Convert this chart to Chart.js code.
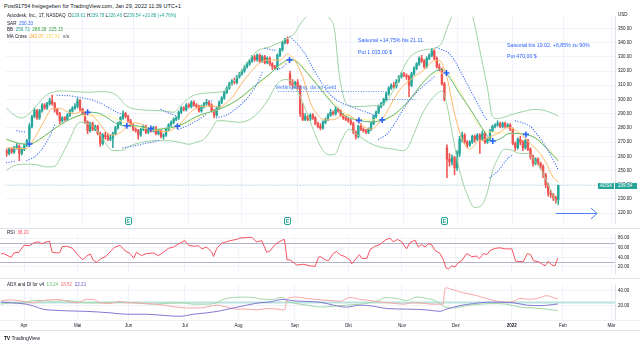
<!DOCTYPE html>
<html lang="de">
<head>
<meta charset="utf-8">
<title>Autodesk, Inc. – 1T – NASDAQ</title>
<script src="https://cdn.jsdelivr.net/npm/chart.js@4/dist/chart.umd.min.js"></script>
<style>
  html, body { margin: 0; padding: 0; background: #fff; }
  #stage { position: relative; width: 640px; height: 345px; overflow: hidden;
           font-family: "Liberation Sans", Arial, sans-serif; color: #131722; }
  canvas { position: absolute; left: 0; }
  .t { position: absolute; white-space: nowrap; line-height: 6px; font-size: 4.6px; }
  .sep { position: absolute; left: 0; width: 640px; height: 1px; background: #e0e3eb; }
  .e { position: absolute; top: 217px; width: 7px; height: 8px; box-sizing: border-box;
       border: 1px solid #26a69a; border-radius: 2px; background: #fff; color: #26a69a;
       font-size: 5px; line-height: 6px; text-align: center; font-weight: bold; }
  .box { position: absolute; height: 6px; line-height: 6px; font-size: 4.6px; color: #fff;
         background: #26a69a; white-space: nowrap; }
  .note { position: absolute; white-space: nowrap; font-size: 5.25px; line-height: 6px; color: #2962ff; }
</style>
</head>
<body>
<div id="stage">
  <div class="t" style="left:4px;top:3px;font-size:5.5px;">Post91754 freigegeben für TradingView.com, Jan 29, 2022 11:39 UTC+1</div>

  <canvas id="cPrice" width="640" height="218" style="top:11px"></canvas>
  <canvas id="cRsi" width="640" height="50" style="top:229px"></canvas>
  <canvas id="cAdx" width="640" height="52" style="top:279px"></canvas>

  <div class="sep" style="top:228px"></div>
  <div class="sep" style="top:278px"></div>
  <div class="sep" style="top:320px;background:#eef0f4"></div>
  <div class="sep" style="top:330px"></div>

  <div class="t" id="legMain" style="left:7px;top:13px"></div>
  <div class="t" id="legSar" style="left:7px;top:20.5px"></div>
  <div class="t" id="legBb" style="left:7px;top:27px"></div>
  <div class="t" id="legMa" style="left:7px;top:33.5px"></div>
  <div class="t" id="legRsi" style="left:7px;top:229.5px"></div>
  <div class="t" id="legAdx" style="left:7px;top:282px"></div>
  <div class="t" style="left:618px;top:12px;font-size:4.5px">USD</div>

  <div class="note" style="left:358px;top:37px">Saisonal +14,75% bis 21.11.</div>
  <div class="note" style="left:358px;top:49px">Put 1.033,00 $</div>
  <div class="note" style="left:507px;top:42px">Saisonal bis 19.02. +6,85% zu 90%</div>
  <div class="note" style="left:507px;top:53px">Put 470,00 $</div>
  <div class="note" style="left:275px;top:84px;color:#4a86f0;font-size:5.4px">Verlängerung, da im Geld</div>

  <div class="t" style="left:4px;top:335px;font-size:5.2px;"><b style="letter-spacing:-0.3px">TV</b> TradingView</div>
</div>

<script>
// ---------------------------------------------------------------
// Autodesk (ADSK) daily candles, bar index 0 = 1 Apr 2021
// ---------------------------------------------------------------
const FIRST_BAR = -9;

const openP = [
  264,262,265,263,266,267,262,265,268,272,
  281,288,292,287,292,296,294,297,299,297,
  293,290,285,287,286,289,292,294,295,299,
  293,290,284,278,283,279,281,276,269,275,
  274,272,273,276,280,283,287,290,288,285,
  282,279,278,275,279,281,277,279,278,280,
  276,278,274,275,279,282,284,286,287,291,
  294,293,296,295,298,296,295,292,295,297,
  298,296,292,289,294,298,301,305,308,311,
  313,312,316,318,320,323,325,327,330,328,
  331,327,330,326,329,325,323,322,331,335,
  340,342,318,312,310,312,309,290,286,288,
  286,289,287,283,281,280,284,286,289,291,
  290,293,292,289,287,286,285,283,277,274,
  281,279,278,277,279,283,288,291,295,297,
  300,304,308,310,309,313,316,318,317,316,
  310,318,322,325,329,327,323,329,331,334,
  329,323,321,311,266,258,256,259,252,262,
  272,275,270,268,270,274,272,275,272,276,
  270,272,278,281,282,283,281,283,281,282,
  279,269,266,272,270,266,271,265,260,255,
  258,255,253,247,240,234,233,231,229.61
];
const highP = [
  265,266,266,267,269,268,266,269,272,283,
  289,294,293,293,297,297,298,301,303,298,
  294,291,288,288,290,293,295,297,301,300,
  294,291,285,284,284,282,282,277,276,277,
  276,275,277,281,284,288,292,291,289,286,
  283,280,279,280,282,282,280,280,281,281,
  279,279,276,280,283,285,287,288,292,295,
  295,297,297,299,299,297,296,296,298,300,
  299,297,293,295,299,302,306,309,312,314,
  315,317,319,321,324,326,328,331,331,332,
  332,331,331,330,330,326,324,332,336,341,
  343,344,320,314,313,314,310,297,290,289,
  290,290,288,284,283,285,287,290,293,292,
  295,294,293,290,288,287,286,284,278,282,
  283,280,279,280,284,289,292,296,298,301,
  305,309,311,312,314,317,319,319,318,317,
  319,323,326,330,331,328,330,332,336,335,
  330,325,322,312,268,262,261,260,264,274,
  277,276,271,271,275,275,276,276,278,277,
  273,279,282,283,285,284,284,284,283,283,
  280,270,273,274,271,272,272,266,261,259,
  259,256,254,248,241,236,234,232,239.78
];
const lowP = [
  260,261,262,262,265,257,261,264,267,271,
  280,287,286,286,291,293,293,296,296,291,
  289,283,284,285,285,288,291,293,294,292,
  289,283,276,277,278,278,275,267,268,272,
  271,271,266,275,279,282,286,287,284,281,
  278,277,272,274,278,276,276,277,277,275,
  275,273,272,274,278,281,283,285,286,290,
  292,292,294,294,295,294,291,291,294,296,
  295,291,287,288,293,297,300,304,307,310,
  311,311,315,317,319,322,324,326,327,327,
  326,326,325,325,324,321,321,321,330,334,
  339,339,310,308,308,307,288,285,285,285,
  285,286,282,280,278.6,279,283,285,288,289,
  289,291,288,286,285,284,282,276,272,273,
  278,277,276,276,278,282,287,290,294,296,
  299,303,307,308,308,312,315,316,314,302,
  309,317,321,324,326,322,322,328,330,328,
  322,320,310,299,245,253,254,247,250,260,
  270,269,266,267,269,270,271,262,271,269,
  269,271,277,280,281,280,280,280,280,278,
  268,264,265,268,264,265,264,258,253,254,
  254,251,245,238,232,231,229,227,226.40
];
const closeP = [
  262,265,263,266,267,262,265,268,271,281,
  288,292,287,292,296,294,297,299,297,293,
  290,285,287,286,289,292,294,295,299,293,
  290,284,278,283,279,281,276,269,275,274,
  272,273,276,280,283,287,290,288,285,282,
  279,278,275,279,281,277,279,278,280,276,
  278,274,275,279,282,284,286,287,291,294,
  293,296,295,298,296,295,292,295,297,298,
  296,292,289,294,298,301,305,308,311,313,
  312,316,318,320,323,325,327,330,328,331,
  327,330,326,329,325,323,322,331,335,340,
  342,340,312,310,312,309,290,286,288,286,
  289,287,283,281,280,284,286,289,291,290,
  293,292,289,287,286,285,283,277,274,281,
  279,278,277,279,283,288,291,295,297,300,
  304,308,310,309,313,316,318,317,316,310,
  318,322,325,329,327,323,329,331,334,329,
  323,322,311,300,258,256,259,252,263,272,
  275,270,268,270,274,272,275,272,276,270,
  272,278,281,282,283,281,283,281,282,279,
  269,266,272,270,266,271,265,260,255,258,
  255,253,247,240,234,233,231,228.66,239.54
];

// Bollinger Bands (20, 2) as [bar, value]
const bbBasis = [[-9,272],[-4,269],[0,268.5],[4,272],[8,277],[12,282],[16,286],[20,289],[23,291],[27,290.5],[30,288],[34,283.5],[38,281.5],[42,281.5],[46,280],[50,279],[54,279.5],[58,281],[62,284],[66,288],[70,290.5],[74,292.5],[78,295.5],[82,299.5],[86,305],[90,311],[95,318],[100,325.9],[103,328],[105,327.3],[110,318.2],[115,307.3],[120,296.8],[125,288.3],[130,285.4],[135,284.2],[140,285.7],[145,290.6],[150,299.4],[155,310.7],[160,319.4],[163,321],[165,318],[170,304.2],[175,291],[180,276.9],[183,270.7],[186,272.3],[190,276.2],[196,275.5],[200,272.7],[205,264.4],[209,256.72]];
const bbUpper = [[-9,294],[-6,289],[-3,287],[0,290],[3,296],[6,302],[9,305],[13,306],[18,305.5],[23,305],[28,305.5],[32,305],[35,302],[38,296],[41,293.5],[46,292.5],[52,292],[57,291],[60,296],[63,301],[66,303.5],[70,304.5],[74,305],[77,306],[80,311],[83,318],[86,326],[90,334],[95,337],[100,341],[103,344],[105,347],[107,353],[110,359],[113,362],[116,361],[119,356],[120.5,350],[122.4,318],[124.3,301],[126.3,295.5],[130,295],[135,295.5],[140,297],[144,307],[147,319],[150,329],[155,334.5],[160,336],[163,340],[165,350],[168,362],[171,368],[174,365],[176,352],[178.5,330],[181,308],[183,288],[185,286.5],[190,289],[195,291.5],[200,293],[204,292],[207,290],[209,288.28]];
const bbLower = [[-9,250.5],[-5,254],[-1,254.5],[3,254],[7,252.5],[10,253],[12,258],[14,265],[16,272],[18,280],[20,284],[23,283],[26,280],[29,272],[33,264],[36,264],[40,267.5],[45,270],[50,271],[55,271],[59,270],[63,268.5],[66,270],[69,272],[72,279],[74.2,285],[77,285],[82,284],[86,285],[90,290],[94,299],[98,311],[101,314],[104,312],[107,302],[110,289],[113,275],[116,264],[118.5,261],[121,262],[123,270],[126.3,279],[129,276],[132,272],[136,268],[140,266],[144,265],[147,264],[149,265],[152,276],[155,289],[158,298],[161,304],[163,306],[165,296],[167,277],[170,250],[173,233],[176,224],[179,226],[181,235],[183,249.6],[185,258],[187.7,265],[190,264.5],[194,262],[197,262],[200,256],[203,248],[206,236],[209,225.15]];

// MA Cross (9 / 21)
const ma9 = [[-9,266],[-1,265.4],[0,267.4],[3,275.7],[6,285.4],[9,293.6],[12,293.7],[15,291.4],[18,290.1],[21,291.7],[24,289.8],[27,284.8],[30,277.7],[33,275],[36,276.6],[39,281.6],[42,283.6],[45,281.9],[48,278.7],[51,278.1],[54,277.3],[57,279.3],[60,283.6],[63,289.8],[66,293.9],[69,295.2],[72,295.4],[75,294.6],[78,297.9],[81,303.4],[84,311.6],[87,318.3],[90,324.2],[93,327.4],[96,327.7],[99,327.6],[102,331.9],[105,327],[108,315.7],[111,298],[114,288.8],[117,285.6],[120,285.7],[123,288.2],[126,289.1],[129,285.1],[132,281.1],[135,279],[138,283.4],[141,290.4],[144,300.2],[147,308.3],[150,313],[153,317.2],[156,320.8],[159,326.4],[162,327.4],[165,315.4],[168,290],[171,272],[174,265],[177,269.9],[180,271.9],[183,274.4],[186,277.2],[189,280.3],[192,278.4],[195,274.2],[198,268.7],[201,263.6],[204,256],[207,245.1],[209,242.07]];
const ma21 = [[-9,271],[0,268.5],[10,279],[20,288.5],[30,288.5],[40,282],[50,279],[60,282],[70,290],[80,297],[90,310],[100,325],[105,327.5],[110,319],[120,298],[130,286],[140,285.5],[150,298.5],[160,318.5],[165,318.5],[170,306],[180,278],[190,276],[200,273],[209,257.91]];
const maCrosses = [[0,268.7],[23,291],[38.5,281.5],[48,279.5],[58.5,281.2],[102.8,327.8],[130.2,285.3],[139.4,285.6],[164.8,318.6],[183.1,270.8],[196.2,275.4]];

// Parabolic SAR, one list per trend leg
const sarLegs = [
  [[-9,255.5],[-6,256.5]],
  [[-5,278],[-1.5,277]],
  [[-1,257],[2,259.5],[5,265],[8,274],[10,282]],
  [[11,303],[16,302.5],[20,301.5],[24,300],[28,297.5],[31,294.5],[34,291.5],[36,290]],
  [[37,266],[42,267.5],[47,269.5],[51,271]],
  [[52,293],[55,290.5],[58,288.5]],
  [[59,279],[63,282],[67,286],[70,289.5]],
  [[71,299],[73,298.5]],
  [[74,287],[78,289],[82,294],[85.7,300],[89.7,310],[92,319]],
  [[93,336],[97,334.5]],
  [[98,321],[100,322.5],[102,326]],
  [[103,344],[106,339],[109,332],[112,322],[115,313],[118,305],[121,300],[124,297],[127,295],[130,293],[134,290.5],[137,288]],
  [[138,272],[141,275],[144,282],[147,291],[150,299],[153,305],[156,310],[159,314.5],[160,316]],
  [[161,336.4],[163,335],[165.5,333],[168,327.5],[170.7,318.6],[173.3,309.7],[176,300.8],[178.6,292],[180,287.5],[181,285]],
  [[182,245],[185,249.5],[189,258.5],[191,261]],
  [[192,285],[195,283.5],[198,281],[200.7,275.2],[203.4,268.5],[205.3,263],[207.3,256.3],[209,250.33]]
];

// RSI (14)
const rsi = [[-9,47],[-8,47.8],[-6,42.5],[-5,39.8],[-4,48.9],[-2,50.5],[0,65],[2,64],[4,70.3],[5.6,71.9],[7,68],[8,70.8],[10,73.5],[11,50.5],[13,48.9],[14,50],[15,62.3],[17,62.8],[19,58.5],[21,45.2],[23,34.5],[24.5,42.5],[26,46.8],[27,34.5],[28.5,29.1],[30,37.1],[32,41.4],[34,53.2],[35.6,61.2],[37.6,65],[39.6,53.2],[41.5,47.8],[43,38.2],[44,50.5],[46,43.5],[48,47.8],[50.7,48.9],[52.6,43.5],[54.6,50.5],[56.5,58.5],[58.5,61.2],[61,69.2],[63,74.6],[64.4,65],[66.3,62.8],[68.3,64],[69.6,57.5],[71.5,61.2],[73.5,50.5],[74.2,41.4],[75.5,58.5],[77.4,69.2],[80.7,74.6],[83.3,77.2],[84.6,79.9],[87.2,81],[89.2,81.5],[91.1,71.9],[93.1,74.6],[95,50.5],[96.3,53.2],[98.3,66.5],[101,75.6],[102,77],[103,34.5],[104.2,34.5],[106.8,23.8],[109.4,25.4],[112,22.2],[114,21.1],[115.3,39.8],[116,41.4],[118,34.5],[119.2,32.8],[121.1,47.8],[122.4,52.1],[123.7,45.2],[125.7,41.4],[127.6,34.5],[128.3,26.4],[129.6,34.5],[131.3,45.2],[132.2,38.2],[134.2,37.1],[135.5,55.8],[137.4,62.8],[139.4,66.5],[141.4,75.6],[143.3,79.9],[144.6,71.9],[146.2,77.2],[147.9,71.9],[149.8,57.5],[151.1,70.3],[153.1,75.6],[154.4,61.2],[155.7,66.5],[157,61.2],[158.3,68.1],[159.6,66.5],[160.9,54.2],[162.9,47.8],[164.2,34.5],[165.2,18.4],[166.2,15.7],[167.5,22.2],[168.8,20],[170.1,29.1],[171.4,32.8],[173.3,47.8],[175.3,41.4],[177.3,42.5],[178.3,37.1],[179.9,47.8],[181.2,45.2],[182.5,54.2],[184.4,58.5],[186.4,59.6],[188.4,57.5],[191,57.5],[192.5,31.8],[195.5,30.7],[197.1,47.8],[198.4,45.2],[199.5,32.8],[201.4,30.7],[202.7,26.4],[204,22.2],[205.3,31.8],[206.6,23.8],[207.9,22.2],[209,38.2]];
const rsiBands = [70, 30];

// ADX and DI
const diPlus = [[-9,21.9],[-5,23.8],[-0.3,23.8],[3.7,26.9],[7.6,26.9],[11.5,25.7],[16.7,26.9],[20.6,25.4],[24.5,23.8],[29.8,23.8],[35,24.6],[40.2,24.6],[45.4,23],[50.7,21.9],[55.9,23],[61.1,23.8],[66.3,21.9],[71.5,21.9],[75.5,23.8],[78,28.4],[82,30.8],[86,31.5],[89.8,30.8],[93.7,28.4],[97.7,28.4],[100.3,30.8],[102,30],[103,26],[104.2,24.6],[108.1,21.9],[112,20],[116,18],[121.1,19.2],[126.3,20.7],[131.6,21.9],[135.5,23.8],[139.4,27.7],[141.4,30.8],[145.9,29.6],[149.8,26.9],[153.8,31.5],[157.7,29.6],[161.6,25.7],[164.9,18],[168.1,16.9],[173.3,20],[178.6,21.9],[183.8,22.7],[189,21.9],[194.2,18],[199.5,16.9],[204.7,15.3],[209,13.24]];
const diMinus = [[-9,26.5],[-5,27.7],[1,25],[3.7,23.8],[7.6,26.9],[10.2,27.7],[13.4,28.4],[16.7,25.7],[20.6,23.8],[24.5,28.4],[27.2,28.4],[29.8,23.8],[33.7,23],[37.6,25.7],[40.2,23.8],[44.1,23.8],[48,22.7],[52,21.9],[55.9,20],[59.8,18],[63.7,16.9],[69,16.9],[72.8,19.2],[75.5,20.7],[79.4,18],[83.3,15.3],[87.2,15.3],[91.1,14.2],[95,16.1],[99,15.3],[102,14.2],[103,28.4],[104.2,30.8],[106.8,31.5],[110.7,29.6],[116,27.7],[119.8,26.9],[123.7,25.7],[127.6,30.8],[131.6,28.4],[135.5,26.9],[139.4,24.6],[143.3,23.8],[148.5,21.9],[152.5,23.8],[156.4,23],[160.3,21.9],[164,22],[165,43.9],[168.1,41.2],[172,37.3],[177.3,33.4],[183.8,26.9],[189,24.6],[191.6,25.7],[194.2,29.6],[198.1,28.4],[202.1,30.8],[204.7,33.4],[207.3,30.8],[209,28.82]];
const adx = [[-9,24.6],[-5,23.8],[1,21.9],[3.7,19.5],[7.6,15],[12,13.8],[16.7,13],[24.5,12.3],[33.7,10.3],[40.2,8.4],[48,8.4],[55.9,6.5],[61.1,5.7],[66.3,8.4],[71.5,10.3],[76.8,13],[82,16.9],[87.2,20.7],[92.4,23.8],[96.3,25],[101.6,28.4],[105.5,26.5],[110.7,25.7],[116,24.6],[121.1,20.7],[126.3,18],[131.6,20.7],[136.8,19.2],[142,16.1],[149.8,15.3],[157.7,14.2],[162.9,12.3],[165.5,15.3],[170.7,20],[176,22.7],[181.2,24.6],[186.4,24.6],[191.6,23.8],[196.8,20.7],[202.1,20],[209,22.21]];
const adxThreshold = [25];

// Axis ticks
const monthTicks  = [0, 21, 41, 63, 84, 106, 127, 148, 169, 191, 211, 230];
const monthLabels = ['Apr','Mai','Jun','Jul','Aug','Sep','Okt','Nov','Dez','2022','Feb','Mär'];
const priceTicks  = [220,230,240,250,260,270,280,290,300,310,320,330,340,350];
const rsiTicks    = [20,40,60,80];
const adxTicks    = [20,40];

// Drawings on the price pane
const earningsBars = [39, 102, 164];
const noteLines = [[98.3, 141.3, 305.7], [141.3, 152.3, 300.0]];   // [from bar, to bar, price]
const forecastArrow = [208, 224.3, 219.8];                        // [from bar, to bar, price]

// ---------------------------------------------------------------
const FONT = '"Liberation Sans", Arial, sans-serif';
const GRID = '#f0f3fa';
const UP = '#26a69a', DOWN = '#ef5350';
const AXIS_W = 25;
const X_MIN = -9.4, X_MAX = 231.4;
const PRICE_MIN = 212.87, PRICE_MAX = 358.2;

const barX = k => k + FIRST_BAR;
const toPts = arr => arr.map(p => ({x: p[0], y: p[1]}));
const last = closeP.length - 1;
const candleColor = closeP.map((c, k) => c >= openP[k] ? UP : DOWN);

function lineDs(arr, color, width, extra) {
  return Object.assign({
    type: 'line', data: toPts(arr), borderColor: color, borderWidth: width,
    pointRadius: 0, fill: false, cubicInterpolationMode: 'monotone', spanGaps: false
  }, extra || {});
}

function xAxis(withLabels) {
  return {
    type: 'linear', min: X_MIN, max: X_MAX, offset: false,
    afterBuildTicks: s => { s.ticks = monthTicks.map(v => ({value: v})); },
    afterFit: s => { s.height = withLabels ? 11 : 0; },
    grid: {color: GRID, drawTicks: false, offset: false},
    border: {display: false},
    ticks: {
      display: withLabels, autoSkip: false, maxRotation: 0, padding: 3, color: '#131722',
      font: c => ({family: FONT, size: 4.5, weight: monthLabels[c.index] === '2022' ? 'bold' : 'normal'}),
      callback: (v, i) => monthLabels[i]
    }
  };
}

function yAxis(min, max, ticks) {
  return {
    position: 'right', min, max,
    afterBuildTicks: s => { s.ticks = ticks.map(v => ({value: v})); },
    afterFit: s => { s.width = AXIS_W; },
    grid: {color: GRID, drawTicks: false},
    border: {display: true, color: '#e0e3eb'},
    ticks: {autoSkip: false, padding: 3, color: '#131722', font: {family: FONT, size: 4.5},
            callback: v => Number(v).toFixed(2)}
  };
}

// horizontal levels, drawing lines and the arrow
const paneDecor = {
  id: 'paneDecor',
  beforeDatasetsDraw(chart, args, o) {
    const {ctx, chartArea: a, scales: {y}} = chart;
    ctx.save();
    (o.levels || []).forEach(l => {
      const py = Math.round(y.getPixelForValue(l.value)) + 0.5;
      ctx.strokeStyle = l.color; ctx.lineWidth = l.width; ctx.setLineDash(l.dash || []);
      ctx.beginPath(); ctx.moveTo(a.left, py); ctx.lineTo(a.right, py); ctx.stroke();
    });
    ctx.restore();
  },
  afterDatasetsDraw(chart, args, o) {
    const {ctx, scales: {x, y}} = chart;
    ctx.save();
    (o.notes || []).forEach(n => {
      const py = Math.round(y.getPixelForValue(n[2])) + 0.5;
      ctx.strokeStyle = '#5b8def'; ctx.lineWidth = 1; ctx.setLineDash([1, 1.5]);
      ctx.beginPath(); ctx.moveTo(x.getPixelForValue(n[0]), py); ctx.lineTo(x.getPixelForValue(n[1]), py); ctx.stroke();
    });
    if (o.arrow) {
      const [a0, a1, lv] = o.arrow;
      const x0 = x.getPixelForValue(a0), x1 = x.getPixelForValue(a1), py = Math.round(y.getPixelForValue(lv)) + 0.5;
      ctx.setLineDash([]); ctx.strokeStyle = '#4d7ef7'; ctx.lineWidth = 1;
      ctx.beginPath(); ctx.moveTo(x0, py); ctx.lineTo(x1, py);
      ctx.moveTo(x1 - 6, py - 5.5); ctx.lineTo(x1, py); ctx.lineTo(x1 - 6, py + 5.5); ctx.stroke();
    }
    ctx.restore();
  }
};

const baseOptions = {
  responsive: false, animation: false, events: [],
  layout: {padding: 0},
  plugins: {legend: {display: false}, tooltip: {enabled: false}}
};

// ---------------- price pane ----------------
const bodies = openP.map((o, k) => ({x: barX(k), y: [o, closeP[k]]}));
const wicks  = lowP.map((l, k) => ({x: barX(k), y: [l, highP[k]]}));

const priceDatasets = [
  {type: 'line', data: toPts(maCrosses), showLine: false, pointStyle: 'cross', pointRadius: 3,
   pointBorderWidth: 1.6, pointBorderColor: '#2962ff', borderColor: '#2962ff', order: 0},
  ...sarLegs.map(leg => lineDs(leg, '#3d6ff5', 1.25,
    {borderDash: [0.01, 2.55], borderCapStyle: 'round', cubicInterpolationMode: 'default', tension: 0.2, order: 1})),
  lineDs(ma9, '#ffb866', 1, {order: 2}),
  lineDs(bbBasis, '#5cb878', 1, {order: 3}),
  lineDs(ma21, '#fff3a0', 1, {order: 4}),
  lineDs(bbUpper, '#9fd3a2', 1, {order: 3}),
  lineDs(bbLower, '#9fd3a2', 1, {order: 3}),
  {type: 'bar', data: bodies, backgroundColor: candleColor, borderWidth: 0, barThickness: 1.7,
   grouped: false, minBarLength: 0.8, order: 5},
  {type: 'bar', data: wicks, backgroundColor: candleColor, borderWidth: 0, barThickness: 0.9,
   grouped: false, order: 6}
];

const priceChart = new Chart(document.getElementById('cPrice'), {
  type: 'bar',
  data: {datasets: priceDatasets},
  options: Object.assign({}, baseOptions, {
    scales: {x: xAxis(false), y: yAxis(PRICE_MIN, PRICE_MAX, priceTicks)},
    plugins: Object.assign({}, baseOptions.plugins, {
      paneDecor: {
        levels: [{value: closeP[last], color: 'rgba(38,166,154,0.45)', width: 1, dash: [1, 2]}],
        notes: noteLines, arrow: forecastArrow
      }
    })
  }),
  plugins: [paneDecor]
});

// ---------------- RSI pane ----------------
new Chart(document.getElementById('cRsi'), {
  type: 'line',
  data: {datasets: [lineDs(rsi, '#f7525f', 1, {cubicInterpolationMode: 'default', tension: 0})]},
  options: Object.assign({}, baseOptions, {
    scales: {x: xAxis(false), y: yAxis(6.68, 86.9, rsiTicks)},
    plugins: Object.assign({}, baseOptions.plugins, {
      paneDecor: {levels: rsiBands.map(v => ({value: v, color: '#b4b2c8', width: 1}))}
    })
  }),
  plugins: [paneDecor]
});

// ---------------- ADX / DI pane ----------------
new Chart(document.getElementById('cAdx'), {
  type: 'line',
  data: {datasets: [
    lineDs(adx, '#8378d4', 1, {order: 0}),
    lineDs(diMinus, '#f6a6a6', 1, {order: 1}),
    lineDs(diPlus, '#a3d6a6', 1, {order: 2})
  ]},
  options: Object.assign({}, baseOptions, {
    scales: {x: xAxis(true), y: yAxis(0.69, 48.09, adxTicks)},
    plugins: Object.assign({}, baseOptions.plugins, {
      paneDecor: {levels: adxThreshold.map(v => ({value: v, color: '#b9e3de', width: 2}))}
    })
  }),
  plugins: [paneDecor]
});

// ---------------- legends & overlays ----------------
const f2 = v => Number(v).toFixed(2);
const col = (txt, c) => `<span style="color:${c}">${txt}</span>`;
const chg = closeP[last] - closeP[last - 1];
const sign = chg >= 0 ? '+' : '−';
const chgColor = chg >= 0 ? UP : DOWN;

document.getElementById('legMain').innerHTML =
  'Autodesk, Inc., 1T, NASDAQ&nbsp;&nbsp;' +
  'O' + col(f2(openP[last]), chgColor) + ' H' + col(f2(highP[last]), chgColor) +
  ' L' + col(f2(lowP[last]), chgColor) + ' C' + col(f2(closeP[last]), chgColor) + ' ' +
  col(`${sign}${f2(Math.abs(chg))} (${sign}${f2(Math.abs(chg) / closeP[last - 1] * 100)}%)`, chgColor);
const sarLast = sarLegs[sarLegs.length - 1];
document.getElementById('legSar').innerHTML = 'SAR&nbsp;&nbsp;' + col(f2(sarLast[sarLast.length - 1][1]), '#2962ff');
document.getElementById('legBb').innerHTML = 'BB&nbsp;&nbsp;' +
  col(f2(bbBasis[bbBasis.length - 1][1]), '#2a9d8f') + '&nbsp;&nbsp;' +
  col(f2(bbUpper[bbUpper.length - 1][1]), '#43a047') + '&nbsp;&nbsp;' +
  col(f2(bbLower[bbLower.length - 1][1]), '#43a047');
document.getElementById('legMa').innerHTML = 'MA Cross&nbsp;&nbsp;' +
  col(f2(ma9[ma9.length - 1][1]), '#ffa726') + '&nbsp;&nbsp;' +
  col(f2(ma21[ma21.length - 1][1]), '#f2dc5d') + '&nbsp;&nbsp;' + col('n/a', '#555');
document.getElementById('legRsi').innerHTML = 'RSI&nbsp;&nbsp;' + col(f2(rsi[rsi.length - 1][1]), '#f7525f');
document.getElementById('legAdx').innerHTML = 'ADX and DI for v4&nbsp;&nbsp;' +
  col(f2(diPlus[diPlus.length - 1][1]), '#66bb6a') + '&nbsp;&nbsp;' +
  col(f2(diMinus[diMinus.length - 1][1]), '#f77c80') + '&nbsp;&nbsp;' +
  col(f2(adx[adx.length - 1][1]), '#6a5acd');

const stage = document.getElementById('stage');
const px = priceChart.scales.x, py = priceChart.scales.y;
const PRICE_TOP = 11;

// earnings markers
earningsBars.forEach(b => {
  const d = document.createElement('div');
  d.className = 'e';
  d.style.left = (px.getPixelForValue(b) - 3.5) + 'px';
  d.textContent = 'E';
  stage.appendChild(d);
});

// last price tags
const lastY = PRICE_TOP + py.getPixelForValue(closeP[last]) - 2.5;
const tagSym = document.createElement('div');
tagSym.className = 'box';
tagSym.style.cssText = `left:598px;top:${lastY}px;width:16px;text-align:center;`;
tagSym.textContent = 'ADSK';
stage.appendChild(tagSym);
const tagVal = document.createElement('div');
tagVal.className = 'box';
tagVal.style.cssText = `left:615px;top:${lastY}px;width:22px;padding-left:3px;box-sizing:border-box;`;
tagVal.textContent = f2(closeP[last]);
stage.appendChild(tagVal);
</script>
</body>
</html>
